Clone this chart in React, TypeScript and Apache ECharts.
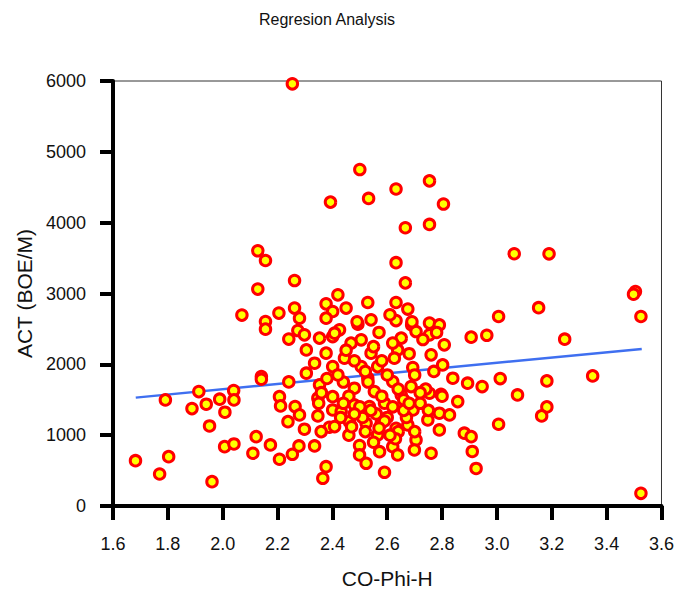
import React, { useEffect, useRef } from "react";
import * as echarts from "echarts";

const chartTitle = "Regresion Analysis";
const xAxisName = "CO-Phi-H";
const yAxisName = "ACT (BOE/M)";

const xTicks = { min: 1.6, max: 3.6, step: 0.2 };
const yTicks = { min: 0, max: 6000, step: 1000 };

// CO-Phi-H values
const phiH: number[] = [
  2.254, 2.5, 2.532, 2.393, 2.632, 2.754, 2.805, 2.666, 2.754, 3.063, 3.19, 2.632, 2.666, 3.152, 3.006, 2.963, 2.906, 3.505, 3.498, 3.525,
  3.247, 3.349, 3.012, 3.182, 2.946, 3.075, 3.182, 3.163, 3.006, 3.525,
  1.682, 1.77, 1.803, 1.961, 1.791, 1.888, 1.913, 1.94, 1.952, 1.989, 2.008, 2.04, 2.041, 2.007, 2.041, 2.122, 2.11, 2.174, 2.207, 2.254,
  2.278, 2.335, 2.141, 2.141, 2.241, 2.207, 2.211, 2.264, 2.238, 2.298, 2.347, 2.377, 2.365, 2.389, 2.401,
  2.128, 2.156, 2.262, 2.128, 2.07, 2.156, 2.156, 2.205, 2.262, 2.28, 2.274, 2.241, 2.298, 2.353, 2.377, 2.401, 2.377, 2.42, 2.401, 2.305, 2.377,
  2.529, 2.45, 2.632, 2.675, 2.541, 2.493, 2.632, 2.689, 2.754, 2.79, 2.705, 2.754, 2.651, 2.808, 2.505, 2.426, 2.468, 2.541, 2.638, 2.76, 2.408,
  2.28, 2.305, 2.335, 2.401, 2.353, 2.347, 2.401, 2.359, 2.408,
  2.444, 2.505, 2.565, 2.626, 2.693, 2.802, 2.839, 2.893, 2.529, 2.62, 2.687, 2.754, 2.796, 2.857, 2.48, 2.553, 2.651, 2.432, 2.48, 2.535,
  2.59, 2.694, 2.748, 2.79, 2.827, 2.462, 2.523, 2.578, 2.632, 2.675, 2.79, 2.881, 2.906, 2.565, 2.499, 2.62, 2.705, 2.499, 2.572, 2.638,
  2.699, 2.76, 2.91, 2.523, 2.59, 2.924,
  2.45, 2.48, 2.52, 2.55, 2.58, 2.6, 2.62, 2.64, 2.66, 2.68, 2.7, 2.72, 2.73, 2.74, 2.77, 2.78, 2.8, 2.44, 2.46, 2.5,
  2.51, 2.53, 2.56, 2.58, 2.6, 2.62, 2.64, 2.67, 2.7, 2.72, 2.46, 2.48, 2.42, 2.38, 2.36, 2.55, 2.63, 2.57, 2.49, 2.69, 2.61,
  2.43, 2.47, 2.54, 2.59, 2.61, 2.66, 2.44, 2.57, 2.68, 2.52, 2.75, 2.35
];

// ACT values (BOE/M)
const act: number[] = [
  5960, 4750, 4342, 4290, 4475, 4590, 4263, 3928, 3975, 3561, 3560, 3435, 3150, 2800, 2675, 2410, 2384, 3028, 2990, 2675,
  2355, 1837, 1799, 1766, 1686, 1568, 1399, 1272, 1154, 179,
  640, 452, 697, 344, 1498, 1375, 1615, 1437, 1130, 1508, 1324, 1629, 1498, 838, 876, 979, 745, 862, 660, 730,
  848, 848, 1827, 1790, 1752, 1544, 1413, 1403, 1191, 1084, 1272, 555, 391, 1112, 1356,
  3603, 3466, 3183, 3062, 2695, 2604, 2497, 2723, 2794, 2652, 2477, 2356, 2416, 2370, 2854, 2746, 2652, 2981, 2392, 2204, 2158,
  2873, 2794, 2873, 2780, 2628, 2567, 2618, 2557, 2582, 2557, 2463, 2416, 2370, 2275, 2346, 2487, 2299, 2158, 2204, 2134, 2440,
  1286, 1875, 2016, 1968, 1710, 1522, 1544, 1050, 1121,
  2087, 1968, 1968, 2087, 1954, 1992, 1804, 1734, 1804, 1757, 1686, 1592, 1578, 1474, 1663, 1615, 1568, 1332, 1427, 1403,
  1451, 1356, 1215, 1310, 1286, 1191, 1168, 1168, 1098, 1145, 1074, 1028, 979, 1003, 853, 838, 933, 721, 767, 721,
  791, 745, 770, 603, 476, 530,
  2200, 2050, 1900, 2250, 2050, 1850, 2300, 1650, 1500, 2150, 1850, 1450, 2350, 1650, 1900, 2450, 1550, 1750, 1550, 1400,
  1250, 1750, 1300, 1550, 1250, 1400, 1050, 1250, 1050, 1600, 1000, 1300, 1850, 1800, 1600, 900, 950, 2450, 2600, 2600, 2700,
  1250, 1120, 1350, 1200, 1000, 1350, 1450, 1100, 1450, 1050, 1350, 1450
];

// Regression line end points
const fitX: number[] = [1.683, 3.528];
const fitY: number[] = [1530, 2218];

const FONT = 'Arial, "Liberation Sans", sans-serif';

export default function App() {
  const ref = useRef<HTMLDivElement>(null);

  useEffect(() => {
    document.body.style.margin = "0";
    if (!ref.current) return;
    const chart = echarts.init(ref.current, null, { renderer: "svg" });
    const points = phiH.map((x, i) => [x, act[i]]);
    const fit = fitX.map((x, i) => [x, fitY[i]]);
    chart.setOption({
      animation: false,
      backgroundColor: "#ffffff",
      title: {
        text: chartTitle,
        left: 322,
        top: 6,
        textAlign: "center",
        textStyle: { fontFamily: FONT, fontSize: 16, fontWeight: "normal", color: "#111" },
      },
      grid: {
        left: 113,
        right: 14,
        top: 81,
        bottom: 88,
        show: true,
        borderColor: "#333",
        borderWidth: 1,
        backgroundColor: "transparent",
      },
      xAxis: {
        type: "value",
        min: xTicks.min,
        max: xTicks.max,
        interval: xTicks.step,
        name: xAxisName,
        nameLocation: "middle",
        nameGap: 62,
        nameTextStyle: { fontFamily: FONT, fontSize: 21, color: "#111" },
        axisLine: { show: true, onZero: false, lineStyle: { color: "#000", width: 4 } },
        axisTick: { show: true, inside: false, length: 14, lineStyle: { color: "#000", width: 4 } },
        axisLabel: {
          fontFamily: FONT,
          fontSize: 18,
          color: "#111",
          margin: 29,
          formatter: (v: number) => v.toFixed(1),
        },
        splitLine: { show: false },
      },
      yAxis: {
        type: "value",
        min: yTicks.min,
        max: yTicks.max,
        interval: yTicks.step,
        name: yAxisName,
        nameLocation: "middle",
        nameGap: 72,
        nameRotate: 90,
        nameTextStyle: { fontFamily: FONT, fontSize: 21, color: "#111" },
        axisLine: { show: true, onZero: false, lineStyle: { color: "#000", width: 4 } },
        axisTick: { show: true, inside: false, length: 13, lineStyle: { color: "#000", width: 4 } },
        axisLabel: {
          fontFamily: FONT,
          fontSize: 18,
          color: "#111",
          margin: 27,
          formatter: (v: number) => String(v),
        },
        splitLine: { show: false },
      },
      series: [
        {
          type: "line",
          data: fit,
          symbol: "none",
          z: 1,
          lineStyle: { color: "#3f6ff0", width: 2.5 },
        },
        {
          type: "scatter",
          data: points,
          symbol: "circle",
          symbolSize: 10.5,
          z: 2,
          itemStyle: { color: "#ffff00", borderColor: "#ff0000", borderWidth: 3, opacity: 1 },
        },
      ],
    });
    return () => chart.dispose();
  }, []);

  return <div ref={ref} style={{ width: 677, height: 594 }} />;
}
